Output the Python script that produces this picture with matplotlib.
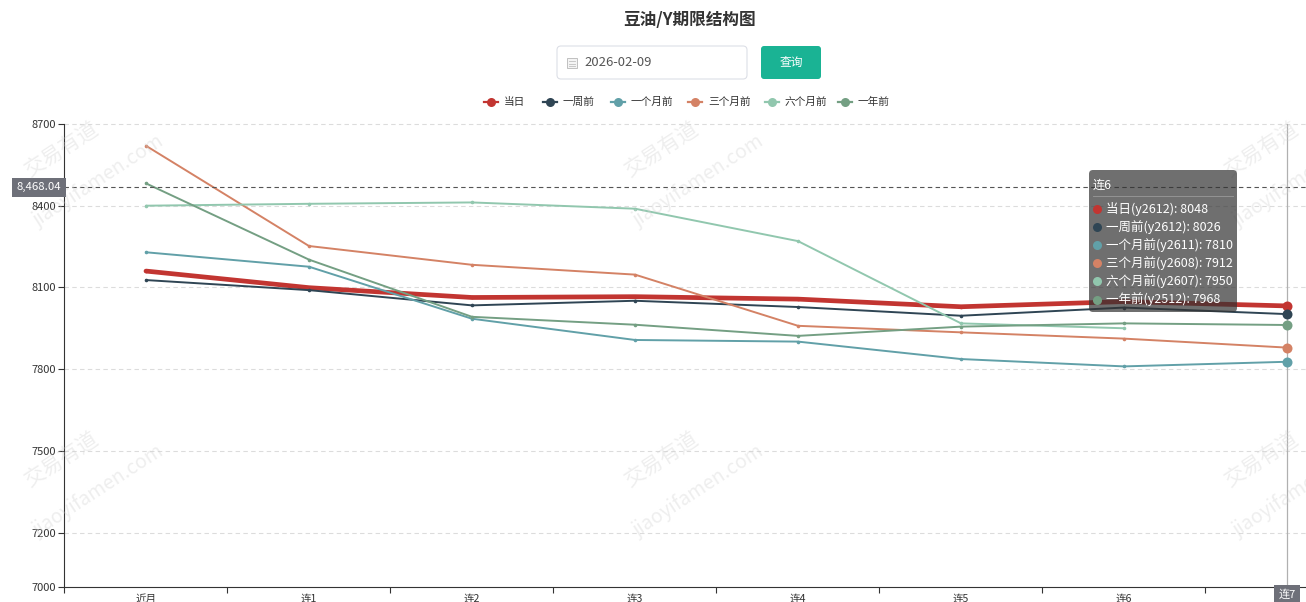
import numpy as np
import matplotlib
matplotlib.use('Agg')
import matplotlib.pyplot as plt
from matplotlib.patches import FancyBboxPatch, Rectangle
from matplotlib.lines import Line2D
from matplotlib.transforms import IdentityTransform, blended_transform_factory

plt.rcParams['font.family'] = ['Noto Sans CJK SC', 'DejaVu Sans']

# ---------------- data ----------------
title = '豆油/Y期限结构图'
query_date = '2026-02-09'
button_text = '查询'
categories = ['近月', '连1', '连2', '连3', '连4', '连5', '连6', '连7']
series_names = ['当日', '一周前', '一个月前', '三个月前', '六个月前', '一年前']
s_today = [8160, 8099, 8063, 8066, 8057, 8029, 8048, 8032]
s_week = [8127, 8090, 8034, 8051, 8028, 7996, 8026, 8002]
s_month = [8229, 8176, 7985, 7907, 7901, 7837, 7810, 7827]
s_3month = [8620, 8252, 8183, 8147, 7959, 7935, 7912, 7879]
s_6month = [8400, 8407, 8412, 8389, 8270, 7968, 7950, np.nan]
s_year = [8482, 8202, 7992, 7963, 7922, 7956, 7968, 7962]
series_colors = ['#c23531', '#2f4554', '#61a0a8', '#d48265', '#91c7ae', '#749f83']
tooltip_contracts = ['y2612', 'y2612', 'y2611', 'y2608', 'y2607', 'y2512']
tooltip_category = '连6'
pointer_category = '连7'
pointer_value = 8468.04
y_ticks = [7000, 7200, 7500, 7800, 8100, 8400, 8700]
watermark_cn = '交易有道'
watermark_en = 'jiaoyifamen.com'

all_series = [s_today, s_week, s_month, s_3month, s_6month, s_year]

# ---------------- figure ----------------
W, H = 1306, 602
fig = plt.figure(figsize=(W / 100, H / 100), dpi=100)
fig.patch.set_facecolor('white')


def fx(px):
    return px / W


def fy(py):
    return 1 - py / H


PIX = IdentityTransform()

ax = fig.add_axes([fx(64), fy(587), 1 - fx(64), (587 - 124) / H])
x = np.arange(len(categories))
pidx = categories.index(pointer_category)
ax.set_xlim(-0.503, (W - 146) / 163)
ax.set_ylim(7000, 8700)

# grid
for yt in y_ticks[1:]:
    ax.axhline(yt, color='#dcdcdc', lw=0.8, ls=(0, (4, 3)), zorder=1, clip_on=False)

# series
for i, (name, vals, col) in enumerate(zip(series_names, all_series, series_colors)):
    lw = 3.4 if i == 0 else 1.4
    ax.plot(x, vals, color=col, lw=lw, marker='o', ms=2.6, markeredgewidth=0,
            solid_joinstyle='round', solid_capstyle='round', zorder=3 + i * 0.01)
    if not np.isnan(vals[pidx]):
        ax.plot(x[pidx], vals[pidx], 'o', color=col, ms=7.2, markeredgewidth=0,
                zorder=4, clip_on=False)

# axes styling
for s in ['top', 'right']:
    ax.spines[s].set_visible(False)
for s in ['left', 'bottom']:
    ax.spines[s].set_color('#333333')
    ax.spines[s].set_linewidth(0.8)

ax.set_yticks(y_ticks)
ax.set_yticklabels([str(v) for v in y_ticks])
ax.tick_params(axis='y', length=4, width=0.8, color='#333333', labelsize=8,
               labelcolor='#333333', pad=2)
ax.set_xticks(x)
# the last category label is covered by the axis-pointer label, which shows it
ax.set_xticklabels([c if c != pointer_category else '' for c in categories])
ax.set_xticks(np.arange(-0.5, len(categories) - 0.5, 1), minor=True)
ax.tick_params(axis='x', which='major', length=0, labelsize=7.6, labelcolor='#333333', pad=5)
ax.tick_params(axis='x', which='minor', length=4, width=0.8, color='#333333')

# axis pointer
ax.axhline(pointer_value, color='#555555', lw=0.8, ls=(0, (4, 3)), zorder=5)
ax.axvline(pidx, color='#b0b0b0', lw=0.9, zorder=2)
btrans = blended_transform_factory(ax.transAxes, ax.transData)
ax.text(-0.002, pointer_value, f'{pointer_value:,.2f}', transform=btrans, ha='right',
        va='center', color='white', fontsize=8.2, clip_on=False, zorder=6,
        bbox=dict(boxstyle='square,pad=0.4', fc='#6e7079', ec='none'))
btrans2 = blended_transform_factory(ax.transData, ax.transAxes)
ax.text(pidx, -0.004, pointer_category, transform=btrans2,
        ha='center', va='top', color='white', fontsize=8, clip_on=False, zorder=6,
        bbox=dict(boxstyle='square,pad=0.35', fc='#6e7079', ec='none'))

# watermarks
for cx in [62, 662, 1262]:
    for off in [0, 310]:
        fig.text(fx(cx), fy(150 + off), watermark_cn, rotation=33, fontsize=15,
                 color='#d0d0d0', alpha=0.35, ha='center', va='center', zorder=8)
        fig.text(fx(cx + 37), fy(181 + off), watermark_en, rotation=33, fontsize=14,
                 color='#d0d0d0', alpha=0.35, ha='center', va='center', zorder=8)

# title
fig.text(fx(690), fy(20), title, ha='center', va='center', fontsize=12,
         fontweight='bold', color='#333333')

# date box and button
fig.add_artist(FancyBboxPatch((557, H - 79), 190, 33, boxstyle='round,pad=0,rounding_size=4',
                              transform=PIX, fc='white', ec='#dcdfe6', lw=0.8))
fig.add_artist(Rectangle((567, H - 68), 10, 10, transform=PIX, fc='#f4f4f4',
                         ec='#c0c0c0', lw=0.7))
for ly in [61, 63.5, 66]:
    fig.add_artist(Line2D([569, 575], [H - ly, H - ly], transform=PIX, color='#c0c0c0', lw=0.6))
fig.text(fx(584), fy(62.5), query_date, ha='left', va='center', fontsize=9.4, color='#555555')
fig.add_artist(FancyBboxPatch((761, H - 79), 60, 33, boxstyle='round,pad=0,rounding_size=3',
                              transform=PIX, fc='#1ab394', ec='none'))
fig.text(fx(791), fy(62.5), button_text, ha='center', va='center', fontsize=8.5, color='white')

# legend
leg_icon_x = [491, 550, 618, 695, 772, 845]
for name, col, lx in zip(series_names, series_colors, leg_icon_x):
    fig.add_artist(Line2D([lx - 7, lx + 7], [H - 102, H - 102], transform=PIX, color=col, lw=1.6))
    fig.add_artist(Line2D([lx], [H - 102], transform=PIX, color=col, marker='o', ms=6.5,
                          markeredgewidth=0))
    fig.text(fx(lx + 13), fy(102), name, ha='left', va='center', fontsize=7.7, color='#333333')

# tooltip
tip = categories.index(tooltip_category)
fig.add_artist(FancyBboxPatch((1089, H - 312), 148, 142, boxstyle='round,pad=0,rounding_size=4',
                              transform=PIX, fc='#323232', ec='none', alpha=0.7, zorder=20))
fig.text(fx(1093), fy(185), tooltip_category, ha='left', va='center', fontsize=8.8,
         color='white', zorder=21)
fig.add_artist(Line2D([1093, 1233], [H - 196, H - 196], transform=PIX, color='#9a9a9a',
                      lw=0.6, zorder=21))
for k, (name, vals, col, con) in enumerate(zip(series_names, all_series, series_colors,
                                               tooltip_contracts)):
    yy = 209 + 18.1 * k
    fig.add_artist(Line2D([1097], [H - yy], transform=PIX, color=col, marker='o', ms=6.5,
                          markeredgewidth=0, zorder=21))
    fig.text(fx(1106), fy(yy), f'{name}({con}): {vals[tip]:.0f}', ha='left', va='center',
             fontsize=9, color='white', zorder=21)

fig.savefig('out.png', dpi=100, facecolor='white')
